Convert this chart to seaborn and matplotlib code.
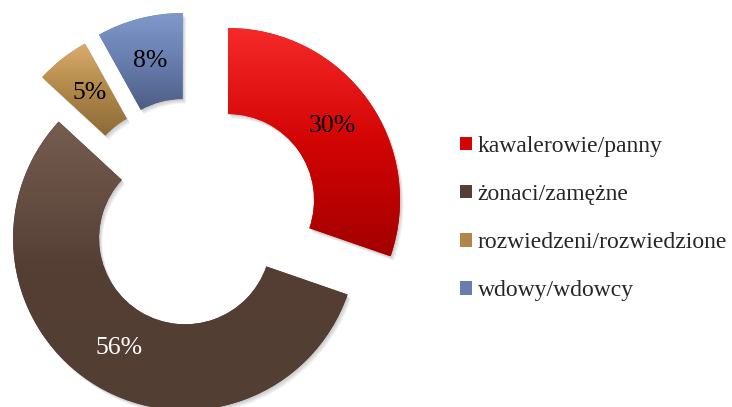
import numpy as np
import matplotlib
matplotlib.use("Agg")
import matplotlib.pyplot as plt
from matplotlib.patches import Wedge
import seaborn as sns

# data
labels = ["kawalerowie/panny", "żonaci/zamężne", "rozwiedzeni/rozwiedzione", "wdowy/wdowcy"]
shares = [30, 56, 5, 8]
explode = [0.25, 0.09, 0.23, 0.24]

# gradient colours (top -> middle -> bottom) per slice
top_colors = ["#F72A2A", "#765D50", "#D8AC6C", "#8099CB"]
mid_colors = ["#D20404", "#553F35", "#B08748", "#677DAE"]
bottom_colors = ["#A30000", "#523E33", "#8C6A3A", "#4D5E85"]
pct_colors = ["black", "white", "black", "black"]

sns.set_theme(style="white")
plt.rcParams["font.family"] = ["Liberation Serif", "DejaVu Serif"]

fig = plt.figure(figsize=(7.32, 4.07), dpi=100)
ax = fig.add_axes([0, 0, 1, 1])

pct_iter = iter(shares)
wedges, texts, autotexts = ax.pie(
    shares, explode=explode, startangle=90, counterclock=False,
    colors=mid_colors, autopct=lambda p: f"{next(pct_iter)}%",
    pctdistance=0.745, wedgeprops=dict(width=0.5, linewidth=0),
    textprops=dict(fontsize=18.5))

# soft drop shadow under every slice
px = 1 / 172
for w in wedges:
    for k in range(1, 6):
        sh = Wedge((w.center[0] + k * 0.7 * px, w.center[1] - k * 0.9 * px), w.r,
                   w.theta1, w.theta2, width=w.width, facecolor="black",
                   alpha=0.045, linewidth=0, zorder=0.5)
        ax.add_patch(sh)

# vertical gradient inside each slice
grad = np.linspace(0, 1, 256).reshape(-1, 1)
for w, c0, c1, c2 in zip(wedges, top_colors, mid_colors, bottom_colors):
    ext = w.get_path().get_extents()
    cmap = sns.blend_palette([c0, c1, c2], as_cmap=True)
    im = ax.imshow(grad, cmap=cmap, extent=[ext.x0, ext.x1, ext.y0, ext.y1],
                   origin="upper", aspect="auto", zorder=1.5)
    im.set_clip_path(w)

for t, c in zip(autotexts, pct_colors):
    t.set_color(c)
    t.set_zorder(4)

ax.legend(wedges, labels, loc="center left", bbox_to_anchor=(0.628, 0.463),
          bbox_transform=fig.transFigure, frameon=False, fontsize=17,
          handlelength=0.51, handleheight=0.51, handletextpad=0.25,
          labelspacing=1.15, borderpad=0, borderaxespad=0)

ax.set_aspect("auto")
ax.set_xlim(-193 / 172, (732 - 193) / 172)
ax.set_ylim(-(407 - 225) / 172, 225 / 172)
ax.axis("off")

fig.savefig("out.png", dpi=100)
